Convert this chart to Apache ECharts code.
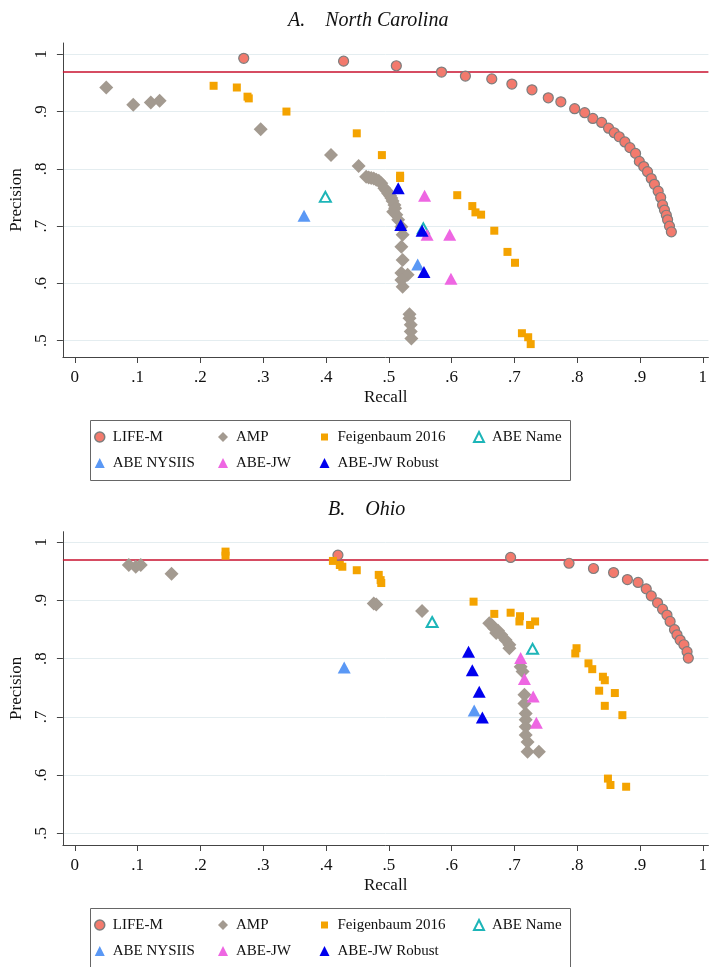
<!DOCTYPE html>
<html>
<head>
<meta charset="utf-8">
<script src="https://cdn.jsdelivr.net/npm/echarts@6.0.0/dist/echarts.min.js"></script>
<style>
html, body { margin: 0; padding: 0; background: #fff; }
#chart { width: 710px; height: 967px; }
</style>
</head>
<body>
<div id="chart"></div>
<script>
// tick labels
const recallTicks = [0, 0.1, 0.2, 0.3, 0.4, 0.5, 0.6, 0.7, 0.8, 0.9, 1];
const precisionTicks = [0.5, 0.6, 0.7, 0.8, 0.9, 1];
const refPrecision = 0.97;

// A. North Carolina  [recall, precision]
const ncLifeM = [[0.269,0.993],[0.428,0.988],[0.512,0.980],[0.584,0.969],[0.622,0.962],[0.664,0.957],[0.696,0.948],[0.728,0.938],[0.754,0.924],[0.774,0.917],[0.796,0.905],[0.812,0.898],[0.825,0.888],[0.839,0.881],[0.850,0.871],[0.859,0.863],[0.867,0.856],[0.876,0.847],[0.884,0.837],[0.893,0.827],[0.899,0.813],[0.906,0.804],[0.912,0.795],[0.918,0.783],[0.923,0.773],[0.929,0.761],[0.933,0.750],[0.936,0.737],[0.939,0.728],[0.942,0.719],[0.944,0.711],[0.947,0.700],[0.950,0.690]];
const ncAmp = [[0.050,0.942],[0.093,0.912],[0.121,0.916],[0.135,0.919],[0.296,0.869],[0.408,0.824],[0.452,0.805],[0.464,0.786],[0.468,0.785],[0.472,0.784],[0.476,0.783],[0.480,0.781],[0.484,0.779],[0.488,0.775],[0.493,0.766],[0.496,0.762],[0.499,0.757],[0.502,0.753],[0.504,0.749],[0.506,0.744],[0.509,0.737],[0.510,0.731],[0.507,0.725],[0.512,0.720],[0.515,0.711],[0.520,0.699],[0.522,0.685],[0.520,0.664],[0.522,0.641],[0.520,0.618],[0.530,0.615],[0.520,0.606],[0.522,0.594],[0.533,0.546],[0.533,0.539],[0.535,0.528],[0.535,0.516],[0.536,0.504]];
const ncFeig = [[0.221,0.945],[0.258,0.942],[0.275,0.926],[0.277,0.923],[0.337,0.900],[0.449,0.862],[0.489,0.824],[0.518,0.788],[0.518,0.784],[0.609,0.754],[0.633,0.735],[0.638,0.724],[0.647,0.720],[0.668,0.692],[0.689,0.655],[0.701,0.636],[0.712,0.513],[0.722,0.506],[0.726,0.494]];
const ncAbeName = [[0.399,0.751],[0.555,0.696]];
const ncNysiis = [[0.365,0.718],[0.546,0.633]];
const ncJw = [[0.557,0.753],[0.561,0.685],[0.597,0.685],[0.599,0.608]];
const ncRobust = [[0.515,0.766],[0.519,0.702],[0.553,0.692],[0.556,0.620]];

// B. Ohio
const ohLifeM = [[0.419,0.978],[0.694,0.974],[0.787,0.964],[0.826,0.955],[0.858,0.948],[0.880,0.936],[0.897,0.931],[0.910,0.920],[0.918,0.908],[0.928,0.896],[0.936,0.885],[0.943,0.875],[0.948,0.864],[0.955,0.850],[0.959,0.841],[0.964,0.832],[0.970,0.824],[0.975,0.812],[0.977,0.801]];
const ohAmp = [[0.086,0.961],[0.097,0.958],[0.105,0.961],[0.154,0.946],[0.476,0.895],[0.480,0.893],[0.553,0.882],[0.660,0.861],[0.664,0.858],[0.668,0.852],[0.671,0.844],[0.674,0.848],[0.679,0.841],[0.686,0.832],[0.692,0.824],[0.692,0.818],[0.710,0.786],[0.713,0.778],[0.716,0.738],[0.716,0.723],[0.718,0.706],[0.718,0.695],[0.718,0.683],[0.718,0.669],[0.721,0.657],[0.721,0.640],[0.739,0.640]];
const ohFeig = [[0.240,0.984],[0.240,0.977],[0.411,0.968],[0.422,0.961],[0.426,0.958],[0.449,0.952],[0.484,0.944],[0.487,0.935],[0.488,0.930],[0.635,0.898],[0.668,0.877],[0.694,0.879],[0.709,0.873],[0.708,0.864],[0.725,0.858],[0.733,0.864],[0.799,0.818],[0.797,0.809],[0.818,0.792],[0.824,0.782],[0.841,0.769],[0.844,0.763],[0.835,0.745],[0.860,0.741],[0.844,0.719],[0.872,0.703],[0.849,0.594],[0.853,0.583],[0.878,0.580]];
const ohAbeName = [[0.569,0.863],[0.729,0.817]];
const ohNysiis = [[0.429,0.785],[0.636,0.711]];
const ohJw = [[0.710,0.801],[0.716,0.765],[0.730,0.735],[0.735,0.690]];
const ohRobust = [[0.627,0.812],[0.633,0.780],[0.644,0.743],[0.649,0.699]];

const FONT = '"Liberation Serif", "Times New Roman", serif';

const markerStyle = {
    'LIFE-M': { symbol: 'circle', symbolSize: 10, itemStyle: { color: '#F37A6D', borderColor: '#7d7d7d', borderWidth: 1.2, opacity: 1 } },
    'AMP': { symbol: 'diamond', symbolSize: 14, itemStyle: { color: '#A39A90', opacity: 1 } },
    'Feigenbaum 2016': { symbol: 'rect', symbolSize: 8, itemStyle: { color: '#F4A300', opacity: 1 } },
    'ABE Name': { symbol: 'triangle', symbolSize: [11, 10], itemStyle: { color: 'rgba(255,255,255,0)', borderColor: '#1DB5B8', borderWidth: 2, opacity: 1 } },
    'ABE NYSIIS': { symbol: 'triangle', symbolSize: [13, 12], itemStyle: { color: '#5A98F5', opacity: 1 } },
    'ABE-JW': { symbol: 'triangle', symbolSize: [13, 12], itemStyle: { color: '#EE66E2', opacity: 1 } },
    'ABE-JW Robust': { symbol: 'triangle', symbolSize: [13, 12], itemStyle: { color: '#0000EE', opacity: 1 } }
};

const panels = [
    { title: 'A.    North Carolina', titleLeft: 283, top: 43, height: 314, yMin: 0.4715, yMax: 1.0197,
      sets: [['LIFE-M', ncLifeM], ['AMP', ncAmp], ['Feigenbaum 2016', ncFeig], ['ABE Name', ncAbeName], ['ABE NYSIIS', ncNysiis], ['ABE-JW', ncJw], ['ABE-JW Robust', ncRobust]] },
    { title: 'B.    Ohio', titleLeft: 323, top: 531.7, height: 313.3, yMin: 0.4799, yMax: 1.0182,
      sets: [['LIFE-M', ohLifeM], ['AMP', ohAmp], ['Feigenbaum 2016', ohFeig], ['ABE Name', ohAbeName], ['ABE NYSIIS', ohNysiis], ['ABE-JW', ohJw], ['ABE-JW Robust', ohRobust]] }
];

function tickText(v) {
    if (Math.abs(v) < 1e-9) return '0';
    if (Math.abs(v - 1) < 1e-9) return '1';
    return v.toFixed(1).replace(/^0/, '');
}

const legendCols = [['LIFE-M', 'ABE NYSIIS'], ['AMP', 'ABE-JW'], ['Feigenbaum 2016', 'ABE-JW Robust'], ['ABE Name']];
const legendColX = [94, 218, 318, 473];

const option = {
    animation: false,
    backgroundColor: '#fff',
    title: [], grid: [], xAxis: [], yAxis: [], series: [], legend: [], graphic: []
};

panels.forEach(function (p, g) {
    const shift = g === 0 ? 0 : 488;
    option.title.push({
        text: p.title, left: p.titleLeft, top: 6 + shift + (g ? 1 : 0),
        textStyle: { fontFamily: FONT, fontStyle: 'italic', fontWeight: 'normal', fontSize: 20, color: '#111' }
    });
    option.grid.push({ left: 62, right: 0, top: p.top, height: p.height });
    option.xAxis.push({
        gridIndex: g, type: 'value', min: -0.019, max: 1.009,
        name: 'Recall', nameLocation: 'middle', nameGap: 32,
        nameTextStyle: { fontFamily: FONT, fontSize: 17, color: '#111' },
        axisLine: { show: true, onZero: false, lineStyle: { color: '#444', width: 1 } },
        axisTick: { show: true, length: 6, customValues: recallTicks, lineStyle: { color: '#444' } },
        axisLabel: { customValues: recallTicks, formatter: tickText, fontFamily: FONT, fontSize: 17, color: '#111', margin: 12 },
        splitLine: { show: false }
    });
    option.yAxis.push({
        gridIndex: g, type: 'value', min: p.yMin, max: p.yMax,
        name: 'Precision', nameLocation: 'middle', nameGap: 34, nameRotate: 90,
        nameTextStyle: { fontFamily: FONT, fontSize: 17, color: '#111' },
        axisLine: { show: true, onZero: false, lineStyle: { color: '#444', width: 1 } },
        axisTick: { show: true, length: 6, customValues: precisionTicks, lineStyle: { color: '#444' } },
        axisLabel: { customValues: precisionTicks, formatter: tickText, rotate: 90, fontFamily: FONT, fontSize: 17, color: '#111', margin: 13 },
        splitLine: { show: true, lineStyle: { color: '#E4EDF0', width: 1 } }
    });
    p.sets.forEach(function (s, i) {
        const st = markerStyle[s[0]];
        const ser = {
            name: s[0], type: 'scatter', xAxisIndex: g, yAxisIndex: g,
            data: s[1], symbol: st.symbol, symbolSize: st.symbolSize,
            itemStyle: st.itemStyle, emphasis: { disabled: true }, z: 3 + i
        };
        if (i === 0) {
            ser.markLine = {
                silent: true, symbol: 'none', z: 1, animation: false,
                label: { show: false },
                lineStyle: { color: '#C8102E', width: 1.5, type: 'solid' },
                data: [{ yAxis: refPrecision }]
            };
        }
        option.series.push(ser);
    });
    legendCols.forEach(function (col, c) {
        option.legend.push({
            orient: 'vertical', left: legendColX[c], top: 429 + shift,
            itemWidth: 10, itemHeight: 10, itemGap: 10, padding: 0,
            selectedMode: false,
            textStyle: { fontFamily: FONT, fontSize: 15, color: '#111', lineHeight: 16, padding: [0, 0, 0, 3] },
            data: col.map(function (n) {
                if (n === 'Feigenbaum 2016') return { name: n, itemStyle: { borderColor: '#fff', borderWidth: 3 } };
                if (n === 'LIFE-M') return { name: n, itemStyle: { borderColor: '#7d7d7d', borderWidth: 1.5 } };
                return n;
            })
        });
    });
    option.graphic.push({
        type: 'rect', left: 88, top: 418 + shift, silent: true,
        shape: { width: 480, height: 60 },
        style: { fill: 'none', stroke: '#666', lineWidth: 1 }
    });
});

const chart = echarts.init(document.getElementById('chart'), null, { renderer: 'canvas' });
chart.setOption(option);
</script>
</body>
</html>
